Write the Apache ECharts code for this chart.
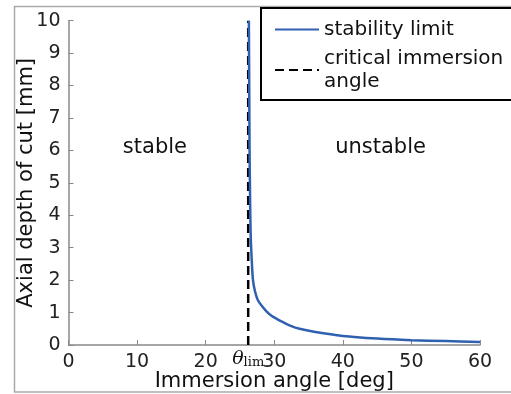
<!DOCTYPE html>
<html>
<head>
<meta charset="utf-8">
<script src="https://cdn.jsdelivr.net/npm/echarts@6/dist/echarts.min.js"></script>
<style>
html,body{margin:0;padding:0;background:#fff;}
#c{width:511px;height:394px;}
</style>
</head>
<body>
<div id="c"></div>
<script>
// Data
const angleDeg = [26.3, 26.35, 26.4, 26.45, 26.55, 26.7, 26.9, 27.2, 27.6, 28.2, 28.9, 29.6, 30.4, 31.2, 32.5, 33.7, 36, 40, 45, 50, 55, 60];
const depthMm  = [10, 8, 6, 5, 3.5, 2.7, 2.0, 1.65, 1.39, 1.2, 1.03, 0.9, 0.8, 0.71, 0.58, 0.5, 0.4, 0.28, 0.2, 0.15, 0.12, 0.09];
const criticalAngle = 26.2;
const xTicks = [0, 10, 20, 30, 40, 50, 60];
const yTicks = [0, 1, 2, 3, 4, 5, 6, 7, 8, 9, 10];
const regionLabels = ['stable', 'unstable'];
const regionPos = [[12.6, 6.1], [45.5, 6.1]];
const legendNames = ['stability limit', 'critical immersion\nangle'];

const FONT = 'DejaVu Sans';
const chart = echarts.init(document.getElementById('c'));
const curve = angleDeg.map((a, i) => [a, depthMm[i]]);

chart.setOption({
  animation: false,
  backgroundColor: '#fff',
  textStyle: {fontFamily: FONT},
  graphic: [{
    type: 'rect', silent: true, z: -10,
    shape: {x: 14.5, y: 6.5, width: 520, height: 385.5},
    style: {fill: 'none', stroke: '#aaaaaa', lineWidth: 1.5}
  }],
  grid: {left: 68.5, right: 31, top: 20.7, bottom: 49, containLabel: false, outerBoundsMode: 'none'},
  legend: {
    orient: 'vertical',
    left: 261, top: 8,
    padding: [10, 12, 7, 13],
    itemGap: 6,
    itemWidth: 44, itemHeight: 14,
    borderColor: '#000', borderWidth: 2,
    backgroundColor: '#fff',
    itemStyle: {opacity: 0},
    textStyle: {fontFamily: FONT, fontSize: 20, color: '#111', lineHeight: 23},
    data: [legendNames[0], legendNames[1]]
  },
  xAxis: {
    type: 'value', min: 0, max: 60, interval: 10,
    name: 'Immersion angle [deg]', nameLocation: 'middle', nameGap: 26,
    nameMoveOverlap: false,
    nameTextStyle: {fontFamily: FONT, fontSize: 21, color: '#111'},
    axisLine: {lineStyle: {color: '#888', width: 1.5}},
    axisTick: {inside: true, length: 5, lineStyle: {color: '#888'}},
    axisLabel: {fontFamily: FONT, fontSize: 19, color: '#222', margin: 8,
      formatter: v => xTicks.includes(v) ? String(v) : ''},
    splitLine: {show: false}
  },
  yAxis: {
    type: 'value', min: 0, max: 10, interval: 1,
    name: 'Axial depth of cut [mm]', nameLocation: 'middle', nameGap: 31,
    nameMoveOverlap: false,
    nameTextStyle: {fontFamily: FONT, fontSize: 21, color: '#111'},
    axisLine: {show: true, lineStyle: {color: '#888', width: 1.5}},
    axisTick: {show: true, inside: true, length: 5, lineStyle: {color: '#888'}},
    axisLabel: {fontFamily: FONT, fontSize: 19, color: '#222', margin: 8,
      formatter: v => yTicks.includes(v) ? String(v) : ''},
    splitLine: {show: false}
  },
  series: [
    {
      name: legendNames[0], type: 'line', data: curve,
      symbol: 'none', smooth: 0.3, z: 3,
      lineStyle: {color: '#3060b0', width: 2.5},
      itemStyle: {color: '#3060b0'}
    },
    {
      name: legendNames[1], type: 'line',
      data: [[criticalAngle, 0], [criticalAngle, 10]],
      symbol: 'none', z: 2,
      lineStyle: {color: '#000', width: 2.5, type: [9, 5]},
      itemStyle: {color: '#000'}
    },
    {
      type: 'scatter', symbolSize: 0, silent: true,
      itemStyle: {opacity: 1},
      data: regionPos.map((p, i) => ({value: p, name: regionLabels[i]})),
      label: {show: true, position: 'inside', formatter: p => p.name,
        fontFamily: FONT, fontSize: 21, color: '#111'}
    },
    {
      type: 'scatter', symbolSize: 0, silent: true,
      itemStyle: {opacity: 1},
      data: [{value: [criticalAngle, 0], name: 'theta'}],
      label: {
        show: true, position: 'bottom', distance: 3,
        formatter: '{t|θ}{s|lim}',
        rich: {
          t: {fontFamily: 'DejaVu Serif', fontStyle: 'italic', fontSize: 19, color: '#111', verticalAlign: 'bottom'},
          s: {fontFamily: 'DejaVu Serif', fontSize: 13, color: '#111', padding: [8, 0, 0, 0], verticalAlign: 'bottom'}
        }
      }
    }
  ]
});
</script>
</body>
</html>
